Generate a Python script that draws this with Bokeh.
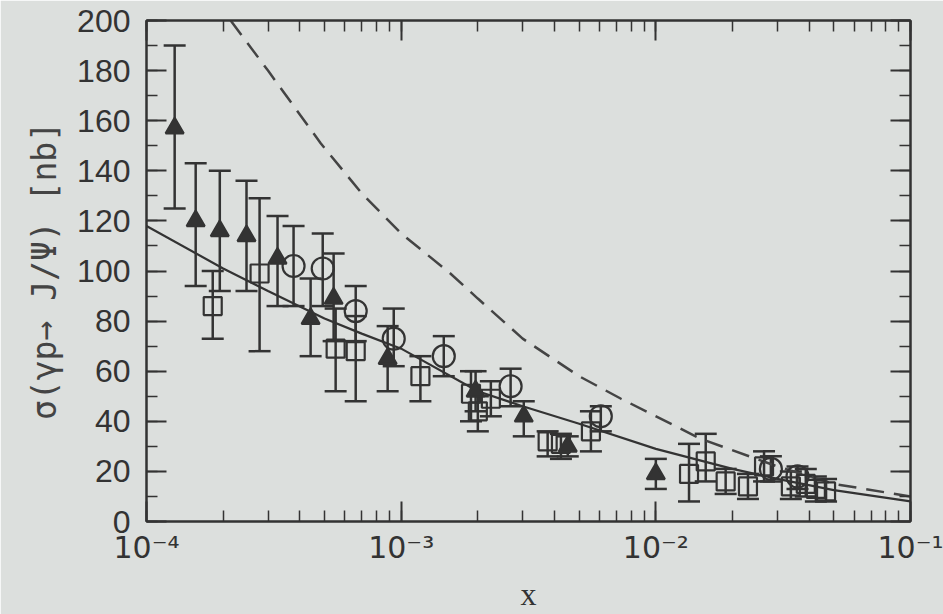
from bokeh.plotting import figure
from bokeh.models import (ColumnDataSource, Whisker, TeeHead, Range1d, LinearAxis, LogAxis,
                          SingleIntervalTicker, LogTicker, CustomJSTickFormatter)
from bokeh.embed import file_html
from bokeh.resources import INLINE

# Photoproduction cross section sigma(gamma p -> J/psi) versus x
# Data set A (filled triangles)
tri_x = [1.29e-4, 1.56e-4, 1.94e-4, 2.47e-4, 3.27e-4, 4.41e-4, 5.43e-4, 8.85e-4, 1.96e-3, 3.03e-3, 4.51e-3, 1.0e-2]
tri_y = [157, 120, 116, 114, 105, 81, 89, 65, 52, 42, 30, 19]
tri_hi = [190, 143, 140, 136, 122, 97, 107, 78, 60, 48, 34, 25]
tri_lo = [125, 94, 92, 92, 86, 66, 72, 52, 44, 34, 26, 13]

# Data set B (open squares)
sq_x = [1.82e-4, 2.78e-4, 5.53e-4, 6.63e-4, 1.19e-3, 1.88e-3, 2.0e-3, 2.25e-3, 3.76e-3, 4.24e-3,
        5.56e-3, 1.35e-2, 1.57e-2, 1.88e-2, 2.30e-2, 2.66e-2, 3.39e-2, 3.88e-2, 4.25e-2, 4.66e-2]
sq_y = [86, 99, 69, 68, 58, 51, 44, 49, 32, 31, 36, 19, 24, 16, 14, 22, 14, 15, 13, 12]
sq_hi = [100, 129, 85, 82, 66, 60, 50, 56, 36, 35, 44, 31, 35, 21, 19, 28, 20, 21, 18, 17]
sq_lo = [73, 68, 52, 48, 48, 40, 36, 42, 26, 25, 28, 8, 16, 11, 9, 16, 9, 10, 8, 8]

# Data set C (open circles)
ci_x = [3.78e-4, 4.92e-4, 6.63e-4, 9.35e-4, 1.47e-3, 2.69e-3, 6.08e-3, 2.83e-2, 3.6e-2]
ci_y = [102, 101, 84, 73, 66, 54, 42, 21, 18]
ci_hi = [118, 115, 94, 85, 74, 61, 46, 26, 22]
ci_lo = [86, 86, 72, 62, 58, 46, 36, 16, 13]

# Model curves
solid_x = [1e-4, 2e-4, 3e-4, 5e-4, 7e-4, 1e-3, 2e-3, 3e-3, 5e-3, 1e-2, 2e-2, 3e-2, 5e-2, 1e-1]
solid_y = [118, 101, 92, 81, 75, 69, 52, 46, 39, 29, 21, 17, 12.5, 8]
dash_x = [2.14e-4, 3e-4, 4.83e-4, 7e-4, 1e-3, 1.56e-3, 2e-3, 3e-3, 5e-3, 7.3e-3, 1.2e-2, 1.5e-2, 3e-2, 5e-2, 1e-1]
dash_y = [200, 180, 151, 131, 115, 99, 89, 73, 58, 49, 38, 33, 22, 15, 10]

BG = "#dcdfdd"
INK = "#333333"

p = figure(width=943, height=614, x_axis_type="log", output_backend="svg", toolbar_location=None,
           x_range=Range1d(1e-4, 1e-1), y_range=Range1d(0, 200),
           min_border_left=146, min_border_right=33, min_border_top=20, min_border_bottom=91)
p.background_fill_color = BG
p.border_fill_color = BG
p.outline_line_color = INK
p.outline_line_width = 2
p.grid.visible = False

sup_code = """
const e = Math.round(Math.log10(tick));
const sup = {'-': '\\u207b', '0': '\\u2070', '1': '\\u00b9', '2': '\\u00b2', '3': '\\u00b3',
             '4': '\\u2074', '5': '\\u2075', '6': '\\u2076', '7': '\\u2077', '8': '\\u2078', '9': '\\u2079'};
let s = '10';
for (const c of String(e)) { s += sup[c]; }
return s;
"""

def style_axis(ax, show_labels):
    ax.axis_line_color = INK
    ax.axis_line_width = 2
    ax.major_tick_line_color = INK
    ax.minor_tick_line_color = INK
    ax.major_tick_line_width = 2
    ax.minor_tick_line_width = 1.5
    ax.major_tick_in = 20
    ax.major_tick_out = 0
    ax.minor_tick_in = 11
    ax.minor_tick_out = 0
    if show_labels:
        ax.major_label_text_font = "Liberation Sans"
        ax.major_label_text_font_size = "32px"
        ax.major_label_text_color = INK
    else:
        ax.major_label_text_font_size = "1px"
        ax.major_label_text_alpha = 0
        ax.major_label_standoff = 0

# bottom x axis
xa = p.xaxis[0]
xa.ticker = LogTicker(num_minor_ticks=10)
xa.formatter = CustomJSTickFormatter(code=sup_code)
style_axis(xa, True)
xa.major_label_text_font = "DejaVu Sans"
xa.major_label_text_font_size = "30px"
xa.major_label_standoff = 8
xa.axis_label = "x"
xa.axis_label_text_font = "Liberation Serif"
xa.axis_label_text_font_style = "normal"
xa.axis_label_text_font_size = "32px"
xa.axis_label_text_color = INK
xa.axis_label_standoff = 8

# left y axis
ya = p.yaxis[0]
ya.ticker = SingleIntervalTicker(interval=20, num_minor_ticks=2)
style_axis(ya, True)
ya.major_label_standoff = 16
ya.axis_label = "\u03c3(\u03b3p\u2192 J/\u03a8) [nb]"
ya.axis_label_text_font = "DejaVu Sans Mono"
ya.axis_label_text_font_style = "normal"
ya.axis_label_text_font_size = "33px"
ya.axis_label_text_color = "#444444"
ya.axis_label_standoff = 10

# mirrored ticks on top and right
top = LogAxis(ticker=LogTicker(num_minor_ticks=10))
style_axis(top, False)
p.add_layout(top, "above")
right = LinearAxis(ticker=SingleIntervalTicker(interval=20, num_minor_ticks=2))
style_axis(right, False)
p.add_layout(right, "right")

# curves
p.line(solid_x, solid_y, line_color=INK, line_width=2.2)
p.line(dash_x, dash_y, line_color="#444444", line_width=2.5, line_dash="18 10")

def series(xs, ys, hi, lo, marker, size, filled):
    src = ColumnDataSource(dict(x=xs, y=ys, hi=hi, lo=lo))
    w = Whisker(source=src, base="x", upper="hi", lower="lo", dimension="height",
                line_color=INK, line_width=2.5,
                upper_head=TeeHead(size=22, line_color=INK, line_width=2.5),
                lower_head=TeeHead(size=22, line_color=INK, line_width=2.5))
    p.add_layout(w)
    p.scatter("x", "y", source=src, marker=marker, size=size, line_color=INK, line_width=2.2,
              fill_color=INK if filled else None)

series(sq_x, sq_y, sq_hi, sq_lo, "square", 18, False)
series(ci_x, ci_y, ci_hi, ci_lo, "circle", 22, False)
series(tri_x, tri_y, tri_hi, tri_lo, "triangle", 18, True)

open("out.html", "w").write(file_html(p, INLINE))
